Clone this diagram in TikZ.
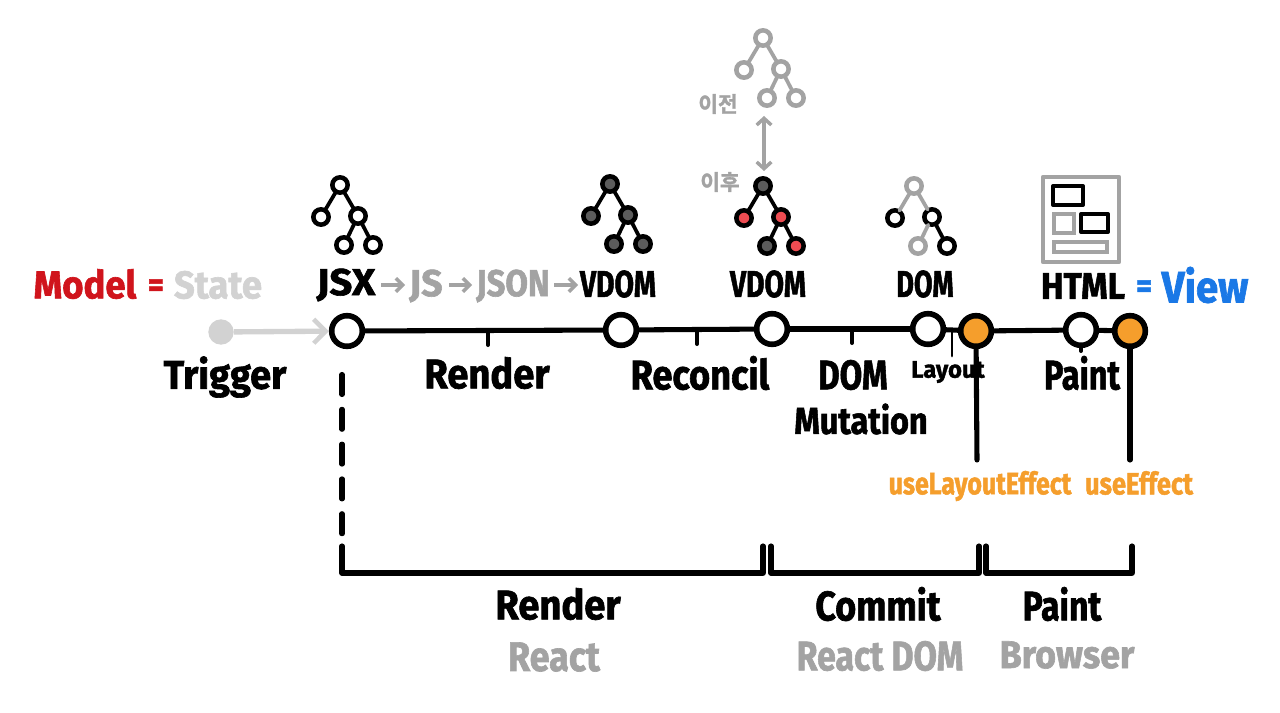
\documentclass[tikz,border=0pt]{standalone}
\usepackage{fontspec}
\usepackage{graphicx}
\setmainfont{Fira Sans}[BoldFeatures={FakeBold=1.6}]
\newfontfamily\krfont{Noto Sans CJK KR}[BoldFont=* Bold,BoldFeatures={FakeBold=1.5}]
\usetikzlibrary{arrows.meta}
\definecolor{grayA}{HTML}{A3A3A3}
\definecolor{grayL}{HTML}{D2D2D2}
\definecolor{orangeH}{HTML}{F59E2C}
\definecolor{redM}{HTML}{D0141C}
\definecolor{blueV}{HTML}{1A78E6}
\definecolor{redN}{HTML}{EE4C52}
\definecolor{darkN}{HTML}{5C5C5C}
% text forced to a width in px, font size in pt
\newcommand\tx[3]{\resizebox{#1pt}{\height}{\fontsize{#2}{#2}\selectfont\bfseries #3}}
\newcommand\treenodes[7]{%
  \begin{scope}[shift={(#2)}]
  \node[#3] (#1r) at (0,0) {};
  \node[#4] (#1a) at (-19,32) {};
  \node[#5] (#1b) at (18,31) {};
  \node[#6] (#1c) at (4,60) {};
  \node[#7] (#1d) at (33,60) {};
  \end{scope}}
\newcommand\treeedges[5]{%
  \draw[edge,#2] (#1r) -- (#1a);
  \draw[edge,#3] (#1r) -- (#1b);
  \draw[edge,#4] (#1b) -- (#1c);
  \draw[edge,#5] (#1b) -- (#1d);}
\tikzset{
  x=0.75pt,y=-0.75pt,
  tn/.style={circle,minimum size=11.5pt,inner sep=0pt,line width=3.4pt,draw=black,fill=white},
  tg/.style={tn,draw=grayA},
  tk/.style={tn,fill=darkN},
  tr/.style={tn,fill=redN},
  edge/.style={line width=2.8pt,line cap=round,shorten >=-1pt,shorten <=-1pt},
  tl/.style={circle,minimum size=23pt,inner sep=0pt,line width=4.2pt,draw=black,fill=white},
  to/.style={tl,fill=orangeH},
  ln/.style={line width=3.8pt,line cap=round,line join=round},
  lb/.style={inner sep=0pt,anchor=center,text=black},
  gl/.style={lb,text=grayA},
  ol/.style={lb,text=orangeH},
  ga/.style={line width=3pt,draw=grayA,-{Straight Barb[length=5pt,width=10pt,line width=2.6pt]},shorten >=0pt},
}
\begin{document}
\begin{tikzpicture}
\useasboundingbox (0,0) rectangle (1280,713);
\fill[white] (0,0) rectangle (1280,713);
% trees
\treenodes{p}{763,38}{tg}{tg}{tg}{tg}{tg}
\treeedges{p}{grayA}{grayA}{grayA}{grayA}
\treenodes{j}{340,185}{tn}{tn}{tn}{tn}{tn}
\treeedges{j}{black}{black}{black}{black}
\treenodes{v}{610,184}{tk}{tk}{tk}{tk}{tk}
\treeedges{v}{black}{black}{black}{black}
\treenodes{w}{763,186}{tk}{tr}{tr}{tk}{tr}
\treeedges{w}{black}{black}{black}{black}
\treenodes{d}{914,186}{tg}{tn}{tn}{tg}{tn}
\treeedges{d}{grayA}{grayA}{grayA}{black}
% compare arrow
\coordinate (cu) at (764,116);
\coordinate (cd) at (764,171);
\draw[line width=3pt,draw=grayA,{Straight Barb[length=5pt,width=11pt,line width=2.6pt]}-{Straight Barb[length=5pt,width=11pt,line width=2.6pt]}] (cu) -- (cd);
\node[lb,text=grayA,font=\krfont\bfseries\fontsize{16}{16}\selectfont] (before) at (718,104) {이전};
\node[lb,text=grayA,font=\krfont\bfseries\fontsize{16}{16}\selectfont] (after) at (720,182) {이후};
% page icon
\draw[line width=3.2pt,draw=grayA,line join=round] (1043,177) rectangle (1119,262);
\draw[line width=3pt,draw=black,line join=round] (1053,186) rectangle (1083,205);
\draw[line width=3pt,draw=grayA] (1054,214) rectangle (1074,233);
\draw[line width=3pt,draw=black,line join=round] (1081,214) rectangle (1108,232);
\draw[line width=3pt,draw=grayA] (1054,242) rectangle (1107,252);
% timeline
\node[tl] (A) at (347,331) {};
\node[tl] (B) at (621,330) {};
\node[tl] (C) at (772,329) {};
\node[tl] (D) at (928,329) {};
\node[to] (E) at (976,331) {};
\node[tl] (F) at (1081,330) {};
\node[to] (G) at (1130,331) {};
\draw[ln] (A) -- (B);
\draw[ln] (B) -- (C);
\draw[ln] (C) -- (D);
\draw[ln] (D) -- (E);
\draw[ln] (E) -- (F);
\draw[ln] (F) -- (G);
% ticks
\coordinate (t1a) at (488,331); \coordinate (t1b) at (488,345);
\coordinate (t2a) at (697,331); \coordinate (t2b) at (697,344);
\coordinate (t3a) at (852,329); \coordinate (t3b) at (852,343);
\coordinate (t4a) at (952,330); \coordinate (t4b) at (952,356);
\coordinate (t5b) at (1081,351);
\draw[ln,line width=3pt] (t1a) -- (t1b);
\draw[ln,line width=3pt] (t2a) -- (t2b);
\draw[ln,line width=3pt] (t3a) -- (t3b);
\draw[ln,line width=2.2pt] (t4a) -- (t4b);
\draw[ln,line width=3pt] (F) -- (t5b);
% trigger
\node[circle,fill=grayL,minimum size=19pt,inner sep=0pt] (T) at (221,332) {};
\draw[line width=4pt,draw=grayL,-{Straight Barb[length=9pt,width=18pt,line width=3.4pt]}] (T) -- (A);
% dashed
\coordinate (da) at (342,374.5);
\coordinate (db) at (342,536);
\draw[line width=3.8pt,line cap=round,dash pattern=on 15pt off 11.1pt] (da) -- (db);
% hooks
\coordinate (eb) at (977,460);
\coordinate (gb) at (1130,460);
\draw[ln] (E) -- (eb);
\draw[ln] (G) -- (gb);
% brackets
\coordinate (b1) at (342,546); \coordinate (b2) at (763,546);
\coordinate (b3) at (771,546); \coordinate (b4) at (979,546);
\coordinate (b5) at (986,546); \coordinate (b6) at (1132,546);
\draw[ln] (b1) -- (342,573) -- (763,573) -- (b2);
\draw[ln] (b3) -- (771,573) -- (979,573) -- (b4);
\draw[ln] (b5) -- (986,573) -- (1132,573) -- (b6);
% top labels
\node[lb,text=redM] (model) at (85,284) {\tx{77}{29}{Model}};
\node[lb,text=redM] (eq1) at (156,288) {\tx{12}{26}{=}};
\node[lb,text=grayL] (state) at (218,285) {\tx{66}{29}{State}};
\node[lb] (jsx) at (346,285) {\tx{44}{28}{JSX}};
\node[lb,text=grayA] (js) at (426,286) {\tx{25}{28}{JS}};
\node[lb,text=grayA] (json) at (513,286) {\tx{55}{28}{JSON}};
\node[lb] (vd1) at (618,284) {\tx{57}{28}{VDOM}};
\node[lb] (vd2) at (768,284) {\tx{57}{28}{VDOM}};
\node[lb] (dom) at (925,284) {\tx{43}{28}{DOM}};
\node[lb] (html) at (1083,286) {\tx{63}{28}{HTML}};
\node[lb,text=blueV] (eq2) at (1144,289) {\tx{12}{26}{=}};
\node[lb,text=blueV] (view) at (1205,285) {\tx{65}{33}{View}};
\coordinate (a1s) at (381,285); \coordinate (a1e) at (405,285);
\coordinate (a2s) at (449,285); \coordinate (a2e) at (472,285);
\coordinate (a3s) at (554,285); \coordinate (a3e) at (578,285);
\draw[ga] (a1s) -- (a1e);
\draw[ga] (a2s) -- (a2e);
\draw[ga] (a3s) -- (a3e);
% phase labels
\node[lb] (trig) at (225,377) {\tx{92}{30}{Trigger}};
\node[lb] (rend) at (487,373) {\tx{94}{31}{Render}};
\node[lb] (rec) at (700,373) {\tx{104}{31}{Reconcil}};
\node[lb] (dm1) at (853,375) {\tx{52}{31}{DOM}};
\node[lb] (dm2) at (861,419) {\tx{100}{28}{Mutation}};
\node[lb] (lay) at (948,372) {\tx{55}{18}{Layout}};
\node[lb] (pai) at (1082,373) {\tx{57}{31}{Paint}};
\node[ol] (ule) at (980,486) {\tx{137}{23}{useLayoutEffect}};
\node[ol] (ue) at (1139,483) {\tx{81}{23}{useEffect}};
% bottom labels
\node[lb] (r2) at (558,604) {\tx{94}{31}{Render}};
\node[gl] (r3) at (554,657) {\tx{69}{31}{React}};
\node[lb] (c2) at (878,604) {\tx{94}{31}{Commit}};
\node[gl] (c3) at (880,656) {\tx{125}{31}{React DOM}};
\node[lb] (p2) at (1062,604) {\tx{59}{31}{Paint}};
\node[gl] (p3) at (1067,655) {\tx{101}{29}{Browser}};
\end{tikzpicture}
\end{document}
